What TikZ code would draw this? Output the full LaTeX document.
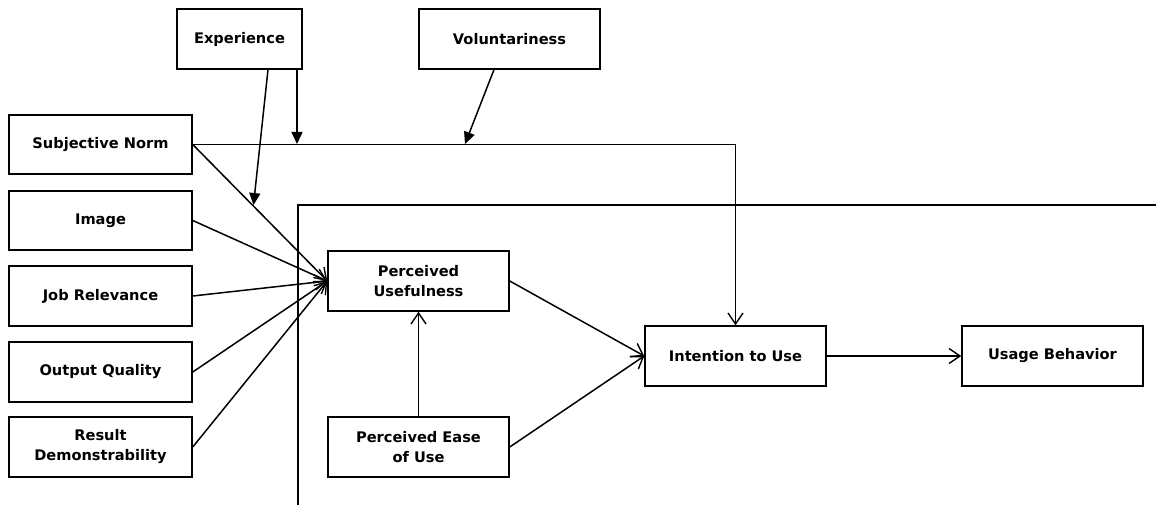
\documentclass[tikz,border=0pt]{standalone}
\usepackage{fontspec}
\setmainfont{DejaVu Sans}
\usetikzlibrary{arrows.meta}
\begin{document}
\begin{tikzpicture}[x=1pt,y=-1pt,
  box/.style={draw, fill=white, line width=1.5pt, minimum width=183pt,
    minimum height=60pt, inner sep=0pt, align=center,
    font=\bfseries\fontsize{14.6}{20}\selectfont},
  link/.style={line width=1.5pt, -{Straight Barb[length=11pt,width=15pt,line width=1.4pt]}},
  mod/.style={line width=1.5pt, -{Triangle[length=12pt,width=11pt]}},
  plain/.style={line width=1.5pt}
]
\useasboundingbox (0,0) rectangle (1156,505);

% frame line running behind the core model
\coordinate (fb) at (298,505);
\coordinate (fc) at (298,205);
\coordinate (fr) at (1156,205);
\draw[plain] (fb) -- (fc) -- (fr);

% moderators
\node[box, minimum width=125pt] (exp) at (239.5,39) {Experience};
\node[box, minimum width=181pt] (vol) at (509.5,39) {Voluntariness};

% determinants of perceived usefulness
\node[box, minimum height=59pt] (sn)  at (100.5,144.5) {Subjective Norm};
\node[box, minimum height=59pt] (img) at (100.5,220.5) {Image};
\node[box] (job) at (100.5,296) {Job Relevance};
\node[box] (out) at (100.5,372) {Output Quality};
\node[box] (res) at (100.5,447) {Result\\Demonstrability};

% core model
\node[box, minimum width=181pt] (pu)   at (418.5,281) {Perceived\\Usefulness};
\node[box, minimum width=181pt] (peou) at (418.5,447) {Perceived Ease\\of Use};
\node[box, minimum width=181pt] (itu)  at (735.5,356) {Intention to Use};
\node[box, minimum width=181pt] (ub)   at (1052.5,356) {Usage Behavior};

% paths into perceived usefulness
\draw[link] (sn.east)  -- (pu.west);
\draw[link] (img.east) -- (pu.west);
\draw[link] (job.east) -- (pu.west);
\draw[link] (out.east) -- (pu.west);
\draw[link] (res.east) -- (pu.west);
\draw[link] (peou.north) -- (pu.south);

% subjective norm directly to intention
\draw[link] (sn.east) -| (itu.north);

% paths into intention and behaviour
\draw[link] (pu.east)   -- (itu.west);
\draw[link] (peou.east) -- (itu.west);
\draw[link] (itu.east)  -- (ub.west);

% moderating effects
\coordinate (e1s) at (268,69.6);
\coordinate (e1t) at (253.5,205);
\coordinate (e2s) at (297,69.6);
\coordinate (e2t) at (297,144);
\coordinate (v1s) at (494,69.6);
\coordinate (v1t) at (465,144);
\draw[mod] (e1s) -- (e1t);
\draw[mod] (e2s) -- (e2t);
\draw[mod] (v1s) -- (v1t);
\end{tikzpicture}
\end{document}
